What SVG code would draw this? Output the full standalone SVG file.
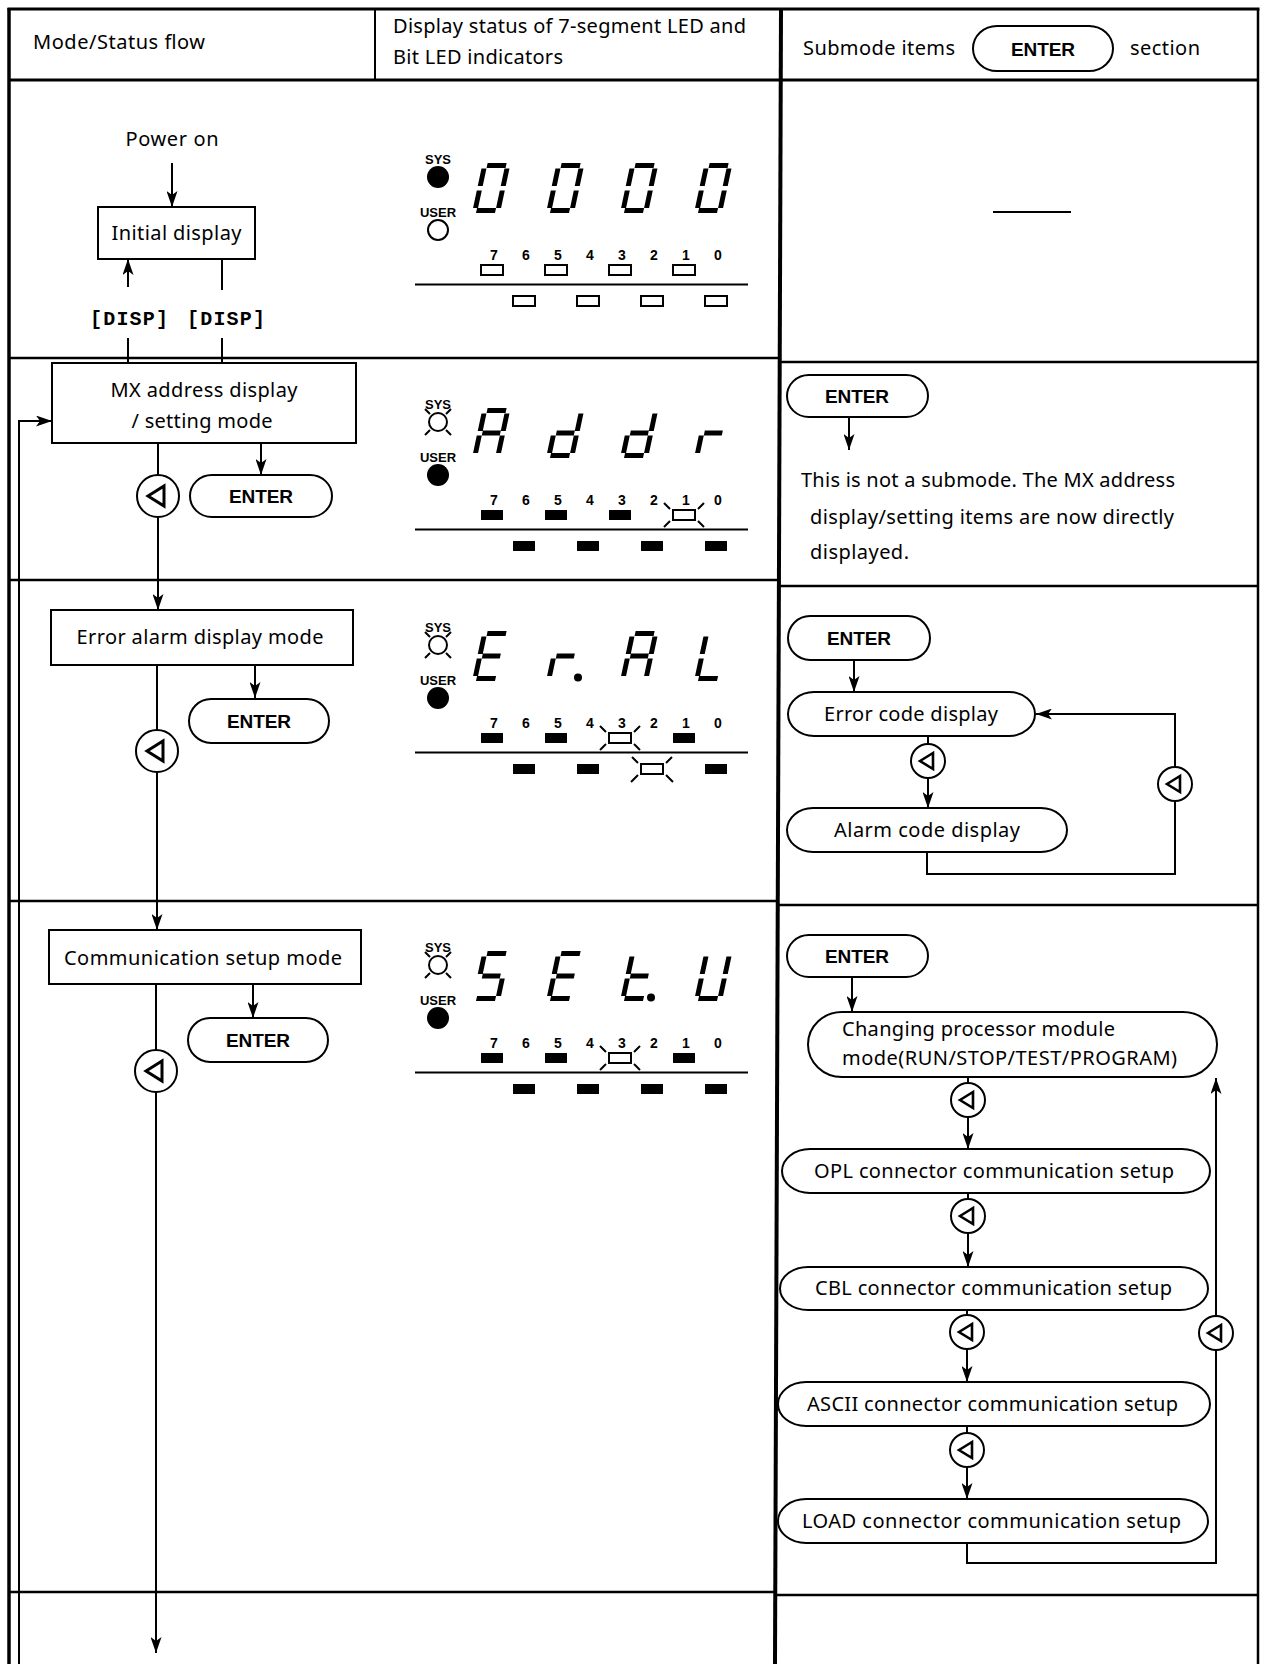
<svg xmlns="http://www.w3.org/2000/svg" xmlns:xlink="http://www.w3.org/1999/xlink" width="1261" height="1664" viewBox="0 0 1261 1664">
<style>
.ln{stroke:#000;stroke-width:2;fill:none}
.gl{stroke:#000;fill:none}
.box{fill:#fff;stroke:#000;stroke-width:2}
.t{font-family:"Noto Sans","Liberation Sans",sans-serif;font-size:20px;fill:#000}
.m{text-anchor:middle}
.en{font-family:"Liberation Sans",Arial,sans-serif;font-weight:bold;font-size:19px;fill:#000;text-anchor:middle}
.mono{font-family:"Liberation Mono","DejaVu Sans Mono",monospace;font-weight:bold;font-size:20px;fill:#000;text-anchor:middle}
.lbl{font-family:"Liberation Sans",Arial,sans-serif;font-weight:bold;font-size:14px;fill:#000;text-anchor:middle}
.sl{font-family:"Liberation Sans",Arial,sans-serif;font-weight:bold;font-size:13px;fill:#000;text-anchor:middle}
.seg{stroke:#000;stroke-width:5;fill:none}
.on{fill:#000}
.off{fill:#fff;stroke:#000;stroke-width:2}
.ray{stroke:#000;stroke-width:2;fill:none}
</style>
<defs>
<marker id="ah" viewBox="0 0 16 11" refX="16" refY="5.5" markerWidth="16" markerHeight="11" markerUnits="userSpaceOnUse" orient="auto"><path d="M0,0 L16,5.5 L0,11 L4,5.5 Z" fill="#000"/></marker>
<g id="btn21"><circle r="21" class="box"/><path d="M-10,0 L6,-10 L6,10 Z" fill="none" stroke="#000" stroke-width="3"/></g>
<g id="btn17"><circle r="17" class="box"/><path d="M-8,0 L5,-8 L5,8 Z" fill="none" stroke="#000" stroke-width="2.6"/></g>
<path id="d0" class="seg" d="M5,-47.5H24 M25.5,-44.5V-27 M25.5,-22.5V-5 M4,-2.5H23 M2.5,-22.5V-5 M2.5,-44.5V-27"/>
<path id="dA" class="seg" d="M5,-47.5H24 M25.5,-44.5V-27 M25.5,-22.5V-5 M2.5,-22.5V-5 M2.5,-44.5V-27 M5,-25H23"/>
<path id="dd" class="seg" d="M25.5,-44.5V-27 M25.5,-22.5V-5 M4,-2.5H23 M2.5,-22.5V-5 M5,-25H23"/>
<path id="dr" class="seg" d="M2.5,-22.5V-5 M5,-25H23"/>
<path id="dE" class="seg" d="M5,-47.5H24 M4,-2.5H23 M2.5,-22.5V-5 M2.5,-44.5V-27 M5,-25H23"/>
<path id="dL" class="seg" d="M4,-2.5H23 M2.5,-22.5V-5 M2.5,-44.5V-27"/>
<path id="d5" class="seg" d="M5,-47.5H24 M25.5,-22.5V-5 M4,-2.5H23 M2.5,-44.5V-27 M5,-25H23"/>
<path id="dt" class="seg" d="M4,-2.5H23 M2.5,-22.5V-5 M2.5,-44.5V-27 M5,-25H23"/>
<path id="dU" class="seg" d="M25.5,-44.5V-27 M25.5,-22.5V-5 M4,-2.5H23 M2.5,-22.5V-5 M2.5,-44.5V-27"/>
<g id="nums">
<text class="lbl" x="494" y="260">7</text><text class="lbl" x="526" y="260">6</text><text class="lbl" x="558" y="260">5</text><text class="lbl" x="590" y="260">4</text><text class="lbl" x="622" y="260">3</text><text class="lbl" x="654" y="260">2</text><text class="lbl" x="686" y="260">1</text><text class="lbl" x="718" y="260">0</text>
<text class="sl" x="438" y="164">SYS</text><text class="sl" x="438" y="217">USER</text>
<path class="ln" d="M415,284.5 H748"/>
</g>
<g id="sysblink"><circle cx="438" cy="177" r="9" class="off"/><path class="ray" d="M430,169 L425,164 M446,169 L451,164 M430,185 L425,190 M446,185 L451,190"/></g>
</defs>

<g id="grid">
<path class="gl" stroke-width="3.5" d="M9,8 V1664"/>
<path class="gl" stroke-width="3" d="M7.5,9 H1259.5"/>
<path class="gl" stroke-width="2.5" d="M1258,9 V1664"/>
<path class="gl" stroke-width="4" d="M781,9 L775,1664"/>
<path class="gl" stroke-width="3" d="M9,80 H1258"/>
<path class="gl" stroke-width="2" d="M375,9 V80"/>
<path class="gl" stroke-width="2.5" d="M9,358 H779 M779,362 H1258 M9,580 H778 M778,586 H1258 M9,901 H777 M777,905 H1258 M9,1592 H776 M776,1595 H1258"/>
</g>

<g id="header">
<text class="t" x="33" y="49" textLength="172">Mode/Status flow</text>
<text class="t" x="393" y="33" textLength="353">Display status of 7-segment LED and</text>
<text class="t" x="393" y="64" textLength="170">Bit LED indicators</text>
<text class="t" x="803" y="55" textLength="152">Submode items</text>
<rect class="box" x="973" y="26" width="140" height="45" rx="24" ry="22.5"/>
<text class="en" x="1043" y="56" textLength="64">ENTER</text>
<text class="t" x="1130" y="55" textLength="70">section</text>
</g>

<g id="connectors">
<path class="ln" d="M172,163 V207" marker-end="url(#ah)"/>
<path class="ln" d="M128,287 V259" marker-end="url(#ah)"/>
<path class="ln" d="M222,259 V290"/>
<path class="ln" d="M128,338 V363 M222,338 V363"/>
<path class="ln" d="M158,443 V480"/>
<path class="ln" d="M158,510 V610" marker-end="url(#ah)"/>
<path class="ln" d="M261,443 V475" marker-end="url(#ah)"/>
<path class="ln" d="M157,665 V735"/>
<path class="ln" d="M157,765 V930" marker-end="url(#ah)"/>
<path class="ln" d="M255,665 V698" marker-end="url(#ah)"/>
<path class="ln" d="M156,984 V1055"/>
<path class="ln" d="M156,1085 V1653" marker-end="url(#ah)"/>
<path class="ln" d="M253,984 V1018" marker-end="url(#ah)"/>
<path class="ln" d="M19,1664 V421 H52" marker-end="url(#ah)"/>
<path class="ln" d="M849,417 V450" marker-end="url(#ah)"/>
<path class="ln" d="M854,660 V692" marker-end="url(#ah)"/>
<path class="ln" d="M928,736 V750"/>
<path class="ln" d="M928,770 V808" marker-end="url(#ah)"/>
<path class="ln" d="M927,852 V874 H1175 V714 H1036" marker-end="url(#ah)"/>
<path class="ln" d="M852,977 V1012" marker-end="url(#ah)"/>
<path class="ln" d="M968,1077 V1090"/>
<path class="ln" d="M968,1110 V1149" marker-end="url(#ah)"/>
<path class="ln" d="M968,1193 V1206"/>
<path class="ln" d="M968,1226 V1267" marker-end="url(#ah)"/>
<path class="ln" d="M967,1310 V1322"/>
<path class="ln" d="M967,1342 V1382" marker-end="url(#ah)"/>
<path class="ln" d="M967,1426 V1440"/>
<path class="ln" d="M967,1460 V1499" marker-end="url(#ah)"/>
<path class="ln" d="M967,1543 V1563 H1216 V1078" marker-end="url(#ah)"/>
</g>

<g id="power-on"><text class="t m" x="172" y="146" textLength="93">Power on</text></g>
<g id="initial-display">
<rect class="box" x="98" y="207" width="157" height="52"/>
<text class="t m" x="176.5" y="240" textLength="130">Initial display</text>
</g>
<g id="disp-keys">
<text class="mono" x="129" y="325" textLength="78">[DISP]</text>
<text class="mono" x="226" y="325" textLength="78">[DISP]</text>
</g>

<g id="mx-mode">
<rect class="box" x="52" y="363" width="304" height="80"/>
<text class="t m" x="204" y="397" textLength="187">MX address display</text>
<text class="t m" x="202" y="428" textLength="141">/ setting mode</text>
</g>
<g id="mx-btn"><use xlink:href="#btn21" x="158" y="496"/></g>
<g id="mx-enter">
<rect class="box" x="190" y="475" width="142" height="42" rx="22" ry="21"/>
<text class="en" x="261" y="503" textLength="64">ENTER</text>
</g>

<g id="err-mode">
<rect class="box" x="51" y="610" width="302" height="55"/>
<text class="t m" x="200" y="644" textLength="247">Error alarm display mode</text>
</g>
<g id="err-btn"><use xlink:href="#btn21" x="157" y="751"/></g>
<g id="err-enter">
<rect class="box" x="189" y="699" width="140" height="44" rx="22" ry="22"/>
<text class="en" x="259" y="728" textLength="64">ENTER</text>
</g>

<g id="comm-mode">
<rect class="box" x="49" y="930" width="312" height="54"/>
<text class="t m" x="203" y="965" textLength="278">Communication setup mode</text>
</g>
<g id="comm-btn"><use xlink:href="#btn21" x="156" y="1071"/></g>
<g id="comm-enter">
<rect class="box" x="188" y="1018" width="140" height="44" rx="22" ry="22"/>
<text class="en" x="258" y="1047" textLength="64">ENTER</text>
</g>

<g id="led-row1">
<use xlink:href="#nums"/>
<circle cx="438" cy="177" r="11" class="on"/>
<circle cx="438" cy="230" r="10" class="off"/>
<use xlink:href="#d0" transform="translate(472,213) skewX(-12)"/>
<use xlink:href="#d0" transform="translate(546,213) skewX(-12)"/>
<use xlink:href="#d0" transform="translate(620,213) skewX(-12)"/>
<use xlink:href="#d0" transform="translate(694,213) skewX(-12)"/>
<rect class="off" x="481" y="265" width="22" height="10"/><rect class="off" x="545" y="265" width="22" height="10"/><rect class="off" x="609" y="265" width="22" height="10"/><rect class="off" x="673" y="265" width="22" height="10"/>
<rect class="off" x="513" y="296" width="22" height="10"/><rect class="off" x="577" y="296" width="22" height="10"/><rect class="off" x="641" y="296" width="22" height="10"/><rect class="off" x="705" y="296" width="22" height="10"/>
</g>

<g id="led-row2" transform="translate(0,245)">
<use xlink:href="#nums"/>
<use xlink:href="#sysblink"/>
<circle cx="438" cy="230" r="11" class="on"/>
<use xlink:href="#dA" transform="translate(472,213) skewX(-12)"/>
<use xlink:href="#dd" transform="translate(546,213) skewX(-12)"/>
<use xlink:href="#dd" transform="translate(620,213) skewX(-12)"/>
<use xlink:href="#dr" transform="translate(694,213) skewX(-12)"/>
<rect class="on" x="481" y="265" width="22" height="10"/><rect class="on" x="545" y="265" width="22" height="10"/><rect class="on" x="609" y="265" width="22" height="10"/><rect class="off" x="673" y="265" width="22" height="10"/>
<path class="ray" d="M670,264 L664,258 M698,264 L704,258 M670,276 L664,282 M698,276 L704,282"/>
<rect class="on" x="513" y="296" width="22" height="10"/><rect class="on" x="577" y="296" width="22" height="10"/><rect class="on" x="641" y="296" width="22" height="10"/><rect class="on" x="705" y="296" width="22" height="10"/>
</g>

<g id="led-row3" transform="translate(0,468)">
<use xlink:href="#nums"/>
<use xlink:href="#sysblink"/>
<circle cx="438" cy="230" r="11" class="on"/>
<use xlink:href="#dE" transform="translate(472,213) skewX(-12)"/>
<use xlink:href="#dr" transform="translate(546,213) skewX(-12)"/>
<circle cx="578" cy="209.5" r="4" class="on"/>
<use xlink:href="#dA" transform="translate(620,213) skewX(-12)"/>
<use xlink:href="#dL" transform="translate(694,213) skewX(-12)"/>
<rect class="on" x="481" y="265" width="22" height="10"/><rect class="on" x="545" y="265" width="22" height="10"/><rect class="off" x="609" y="265" width="22" height="10"/><rect class="on" x="673" y="265" width="22" height="10"/>
<path class="ray" d="M606,264 L600,258 M634,264 L640,258 M606,276 L600,282 M634,276 L640,282"/>
<rect class="on" x="513" y="296" width="22" height="10"/><rect class="on" x="577" y="296" width="22" height="10"/><rect class="off" x="641" y="296" width="22" height="10"/><rect class="on" x="705" y="296" width="22" height="10"/>
<path class="ray" d="M638,295 L632,289 M666,295 L672,289 M638,307 L631,314 M666,307 L673,314"/>
</g>

<g id="led-row4" transform="translate(0,788)">
<use xlink:href="#nums"/>
<use xlink:href="#sysblink"/>
<circle cx="438" cy="230" r="11" class="on"/>
<use xlink:href="#d5" transform="translate(472,213) skewX(-12)"/>
<use xlink:href="#dE" transform="translate(546,213) skewX(-12)"/>
<use xlink:href="#dt" transform="translate(620,213) skewX(-12)"/>
<circle cx="651" cy="209.5" r="4" class="on"/>
<use xlink:href="#dU" transform="translate(694,213) skewX(-12)"/>
<rect class="on" x="481" y="265" width="22" height="10"/><rect class="on" x="545" y="265" width="22" height="10"/><rect class="off" x="609" y="265" width="22" height="10"/><rect class="on" x="673" y="265" width="22" height="10"/>
<path class="ray" d="M606,264 L600,258 M634,264 L640,258 M606,276 L600,282 M634,276 L640,282"/>
<rect class="on" x="513" y="296" width="22" height="10"/><rect class="on" x="577" y="296" width="22" height="10"/><rect class="on" x="641" y="296" width="22" height="10"/><rect class="on" x="705" y="296" width="22" height="10"/>
</g>

<g id="sub-none"><path class="ln" d="M993,212 H1071"/></g>

<g id="sub-mx-enter">
<rect class="box" x="787" y="375" width="141" height="42" rx="22" ry="21"/>
<text class="en" x="857" y="403" textLength="64">ENTER</text>
</g>
<g id="sub-mx-note">
<text class="t" x="801" y="487" textLength="374">This is not a submode. The MX address</text>
<text class="t" x="810" y="524" textLength="364">display/setting items are now directly</text>
<text class="t" x="810" y="559" textLength="99">displayed.</text>
</g>

<g id="sub-err-enter">
<rect class="box" x="788" y="616" width="142" height="44" rx="22" ry="22"/>
<text class="en" x="859" y="645" textLength="64">ENTER</text>
</g>
<g id="error-code">
<rect class="box" x="788" y="692" width="247" height="44" rx="26" ry="22"/>
<text class="t m" x="911" y="721" textLength="174">Error code display</text>
</g>
<g id="err-btn-a"><use xlink:href="#btn17" x="928" y="761"/></g>
<g id="alarm-code">
<rect class="box" x="787" y="808" width="280" height="44" rx="26" ry="22"/>
<text class="t m" x="927" y="837" textLength="186">Alarm code display</text>
</g>
<g id="err-btn-b"><use xlink:href="#btn17" x="1175" y="784"/></g>

<g id="sub-comm-enter">
<rect class="box" x="787" y="935" width="141" height="42" rx="22" ry="21"/>
<text class="en" x="857" y="963" textLength="64">ENTER</text>
</g>
<g id="changing-mode">
<rect class="box" x="808" y="1012" width="409" height="65" rx="34" ry="32.5"/>
<text class="t" x="842" y="1036" textLength="273">Changing processor module</text>
<text class="t" x="842" y="1065" textLength="335">mode(RUN/STOP/TEST/PROGRAM)</text>
</g>
<g id="c-btn1"><use xlink:href="#btn17" x="968" y="1100"/></g>
<g id="opl">
<rect class="box" x="782" y="1149" width="428" height="44" rx="28" ry="22"/>
<text class="t m" x="994" y="1178" textLength="360">OPL connector communication setup</text>
</g>
<g id="c-btn2"><use xlink:href="#btn17" x="968" y="1216"/></g>
<g id="cbl">
<rect class="box" x="780" y="1267" width="428" height="43" rx="28" ry="21.5"/>
<text class="t m" x="993.5" y="1295" textLength="357">CBL connector communication setup</text>
</g>
<g id="c-btn3"><use xlink:href="#btn17" x="967" y="1332"/></g>
<g id="ascii">
<rect class="box" x="778" y="1382" width="432" height="44" rx="28" ry="22"/>
<text class="t m" x="992.5" y="1411" textLength="371">ASCII connector communication setup</text>
</g>
<g id="c-btn4"><use xlink:href="#btn17" x="967" y="1450"/></g>
<g id="load">
<rect class="box" x="778" y="1499" width="430" height="44" rx="28" ry="22"/>
<text class="t m" x="991.5" y="1528" textLength="379">LOAD connector communication setup</text>
</g>
<g id="c-btn5"><use xlink:href="#btn17" x="1216" y="1333"/></g>
</svg>
